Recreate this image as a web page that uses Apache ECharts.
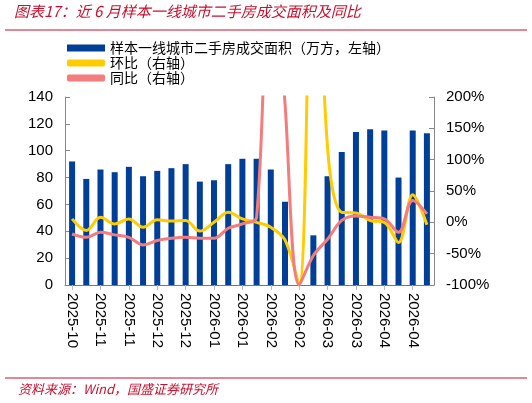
<!DOCTYPE html>
<html><head><meta charset="utf-8">
<script src="https://cdn.jsdelivr.net/npm/echarts@6/dist/echarts.min.js"></script>
<style>body{margin:0}#c{width:532px;height:403px}</style></head>
<body><div id="c"></div>
<script>
const categories=['2025-10','2025-10','2025-11','2025-11','2025-11','2025-11','2025-12','2025-12','2025-12','2025-12','2026-01','2026-01','2026-01','2026-01','2026-02','2026-02','2026-02','2026-02','2026-03','2026-03','2026-03','2026-03','2026-04','2026-04','2026-04','2026-04'];
const area=[92,79,86,84,88,81,85,87,90,77,78,90,94,94,86,62,0,37,81,99,114,116,115,80,115,113];
const mom=[5.5,-13,8,-2.5,5.5,-8,4,2,3,-14,0,16,5.5,0,-8,-28,-100,600,119,16,15,3,0,-32,44,-4];
const yoy=[-18.6,-24,-16,-20,-24,-36,-29,-25.5,-24,-25.5,-25.5,-9.5,-2.5,8,500,190,-100,-53,-27,3,10,8,5.5,-16,35,13.5];
const leftTicks=[0,140,20];
const rightTicks=[-100,200,50];
const font='"Noto Sans CJK SC","Liberation Sans",sans-serif';
const chart=echarts.init(document.getElementById('c'));
chart.setOption({
 animation:false,
 graphic:[
  {type:'text',left:14,top:4,style:{text:'图表17：近 6 月样本一线城市二手房成交面积及同比',fill:'#C8102E',font:'italic 15px '+font}},
  {type:'line',shape:{x1:5,y1:30,x2:527,y2:30},style:{stroke:'#C8102E',lineWidth:1}},
  {type:'line',shape:{x1:5,y1:378,x2:527,y2:378},style:{stroke:'#C8102E',lineWidth:1}},
  {type:'text',left:18,top:383,style:{text:'资料来源：Wind，国盛证券研究所',fill:'#C8102E',font:'italic 13px '+font}}
 ],
 legend:{left:62,top:36,orient:'vertical',itemGap:1,itemWidth:38,itemHeight:7,textStyle:{fontFamily:font,fontSize:14,color:'#000'},
  data:[{name:'样本一线城市二手房成交面积（万方，左轴）',icon:'rect'},{name:'环比（右轴）',icon:'roundRect'},{name:'同比（右轴）',icon:'roundRect'}]},
 grid:{left:65,right:98,top:97,bottom:118},
 xAxis:{type:'category',data:categories,axisTick:{show:true,alignWithLabel:true,lineStyle:{color:'#bbb'}},
  axisLine:{lineStyle:{color:'#777'}},
  axisLabel:{interval:1,rotate:-90,fontSize:15,color:'#000',fontFamily:'"Liberation Sans",sans-serif',margin:8}},
 yAxis:[
  {type:'value',min:leftTicks[0],max:leftTicks[1],interval:leftTicks[2],splitLine:{show:false},axisLine:{show:true,lineStyle:{color:'#888'}},axisTick:{show:true,inside:true},
   axisLabel:{fontSize:15,color:'#000',fontFamily:'"Liberation Sans",sans-serif',margin:12}},
  {type:'value',min:rightTicks[0],max:rightTicks[1],interval:rightTicks[2],splitLine:{show:false},axisLine:{show:true,lineStyle:{color:'#888'}},axisTick:{show:true,inside:true},
   axisLabel:{formatter:'{value}%',fontSize:15,color:'#000',fontFamily:'"Liberation Sans",sans-serif',margin:12}}
 ],
 series:[
  {name:'样本一线城市二手房成交面积（万方，左轴）',type:'bar',data:area,barWidth:6,itemStyle:{color:'#003F98'}},
  {name:'环比（右轴）',type:'line',yAxisIndex:1,data:mom,smooth:0.35,symbol:'none',lineStyle:{color:'#FFCC00',width:3},itemStyle:{color:'#FFCC00'},clip:true},
  {name:'同比（右轴）',type:'line',yAxisIndex:1,data:yoy,smooth:0.35,symbol:'none',lineStyle:{color:'#F47C7C',width:3},itemStyle:{color:'#F47C7C'},clip:true}
 ]
});
</script></body></html>
